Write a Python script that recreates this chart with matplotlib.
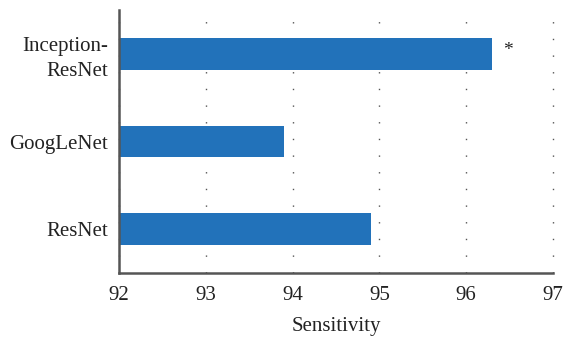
import matplotlib.pyplot as plt

models = ["ResNet", "GoogLeNet", "Inception-\nResNet"]
sensitivity = [94.9, 93.9, 96.3]
ticks = [92, 93, 94, 95, 96, 97]
best_marker = "*"

plt.rcParams["font.family"] = ["Liberation Serif", "DejaVu Serif"]

fig = plt.figure(figsize=(5.63, 3.38), dpi=100)
ax = fig.add_axes([119 / 563, 1 - 273 / 338, 434 / 563, 263 / 338])

pos = range(len(models))
ax.barh(pos, [v - ticks[0] for v in sensitivity], left=ticks[0], height=0.36,
        color="#2272ba", zorder=2)
ax.text(sensitivity[2] + 0.12, 2 + 0.04, best_marker, fontsize=14,
        ha="left", va="center", color="#222222")

ax.set_xlim(92, 97)
ax.set_ylim(-0.5, 2.5)
ax.set_xticks(ticks)
ax.set_xticklabels([str(t) for t in ticks])
ax.set_yticks(list(pos))
ax.set_yticklabels(models, multialignment="right", linespacing=1.4)
ax.tick_params(axis="both", length=0, labelsize=15, colors="#222222", pad=8)
ax.tick_params(axis="x", pad=9)
ax.set_xlabel("Sensitivity", fontsize=15, color="#222222", labelpad=9)

ax.grid(axis="x", linestyle=(0, (1, 11)), color="#555555", linewidth=1, zorder=1)
for line in ax.get_xgridlines():
    line.set_clip_on(False)
for side in ["top", "right"]:
    ax.spines[side].set_visible(False)
for side in ["left", "bottom"]:
    ax.spines[side].set_color("#555555")
    ax.spines[side].set_linewidth(1.8)

fig.savefig("out.png", dpi=100)
